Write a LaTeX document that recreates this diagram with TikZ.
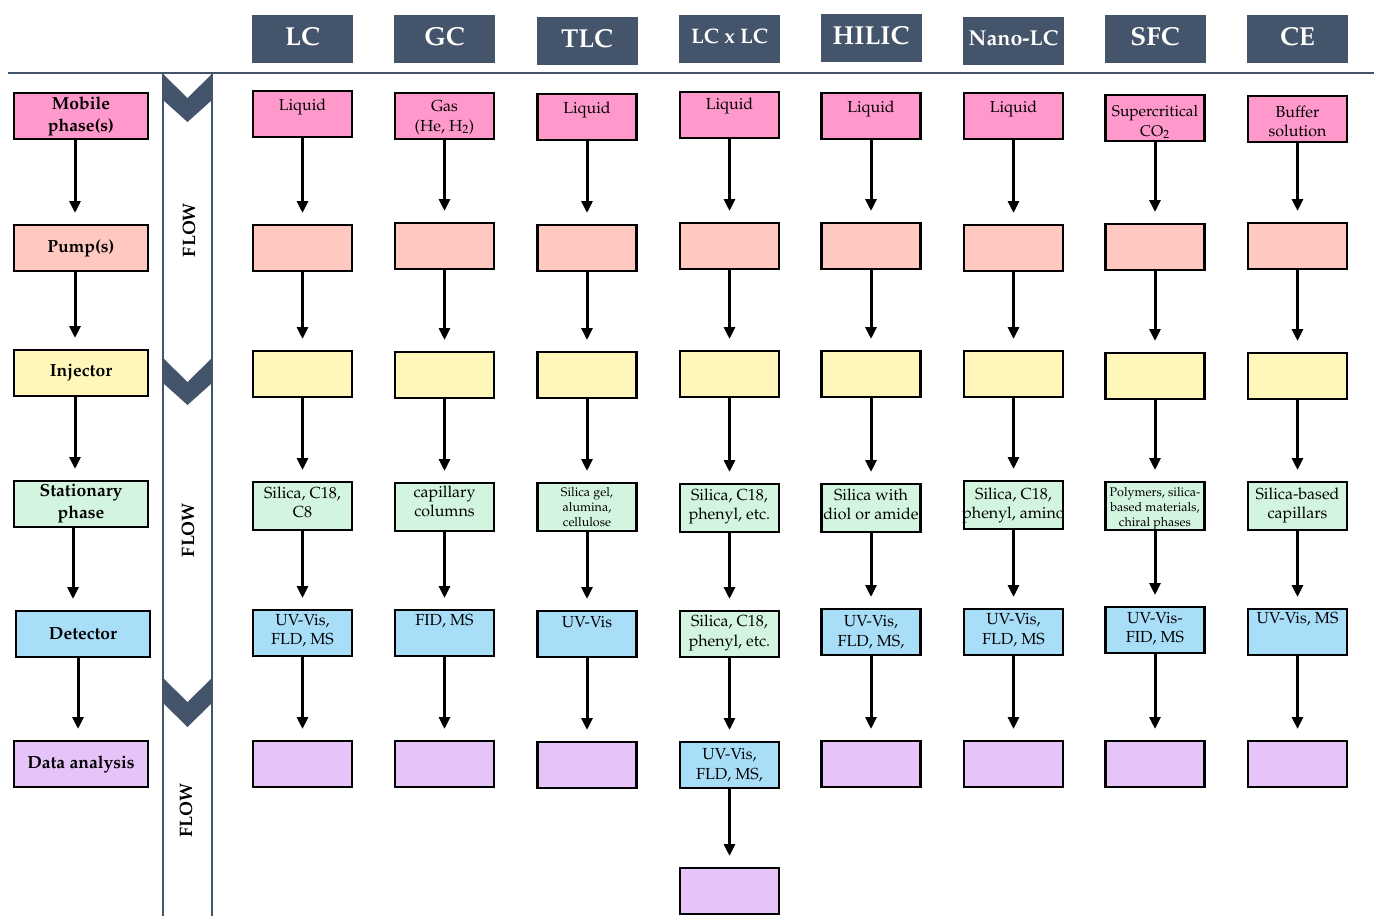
\documentclass[tikz,border=0pt]{standalone}
\usepackage[T1]{fontenc}
\usepackage{mathpazo}
\usetikzlibrary{arrows.meta}
\definecolor{slate}{HTML}{44546A}
\definecolor{cpink}{HTML}{FF99CC}
\definecolor{cpump}{HTML}{FFC9C1}
\definecolor{cinj}{HTML}{FFF6B9}
\definecolor{cstat}{HTML}{D3F5E0}
\definecolor{cdet}{HTML}{A9DEF8}
\definecolor{cdata}{HTML}{E6C3F9}
\tikzset{
  every node/.style={inner sep=0pt, outer sep=0pt},
  cbox/.style={draw=black, line width=2.2pt, minimum width=99pt, minimum height=46pt, anchor=north},
  lbox/.style={cbox, minimum width=134pt, align=center, font=\fontsize{17.5}{22}\selectfont\bfseries},
  hbox/.style={fill=slate, minimum width=101pt, minimum height=48pt, anchor=north, text=white, text depth=6pt, font=\fontsize{26}{30}\selectfont\bfseries},
  ctext/.style={anchor=north, align=center, font=\fontsize{16}{19.5}\selectfont},
  stext/.style={ctext, font=\fontsize{12.5}{15}\selectfont},
  pinkb/.style={fill=cpink},
  pumpb/.style={fill=cpump},
  injb/.style={fill=cinj},
  statb/.style={fill=cstat, minimum height=48pt},
  detb/.style={fill=cdet},
  datab/.style={fill=cdata},
  arr/.style={line width=3pt, -{Triangle[length=12pt,width=11pt]}, shorten >=12pt},
  flowtxt/.style={rotate=90, font=\fontsize{18}{21}\selectfont\bfseries},
  band/.style={draw=slate, line width=2pt},
}
\newcommand\mkbox[7]{%
  \node[cbox,#4] (#1) at (#2,#3) {};
  \node[#5] (#1t) at ([yshift=-#6pt]#1.north) {#7};
}
\newcommand\ebox[4]{%
  \node[cbox,#4] (#1) at (#2,#3) {};
}
\begin{document}
\begin{tikzpicture}[x=1pt,y=-1pt]
\useasboundingbox (0,0) rectangle (1374,916);
% header line and flow band
\draw[band] (8,73) -- (1374,73);
\draw[band] (163,73) -- (163,916);
\draw[band] (212,73) -- (212,916);
\fill[slate] (163,74) -- (187.5,98) -- (212,74) -- (212,100) -- (187.5,122) -- (163,100) -- cycle;
\fill[slate] (163,358) -- (187.5,382) -- (212,358) -- (212,383) -- (187.5,405) -- (163,383) -- cycle;
\fill[slate] (163,678) -- (187.5,702) -- (212,678) -- (212,703) -- (187.5,727) -- (163,703) -- cycle;
\node[flowtxt] (f1) at (189,230) {FLOW};
\node[flowtxt] (f2) at (188,530) {FLOW};
\node[flowtxt] (f3) at (186,810) {FLOW};
% headers
\node[hbox] (hLC) at (302.5,15) {LC};
\node[hbox] (hGC) at (444.5,15) {GC};
\node[hbox] (hTLC) at (587,17) {TLC};
\node[hbox, font=\fontsize{21}{25}\selectfont\bfseries] (hLL) at (729.5,15) {LC x LC};
\node[hbox] (hHI) at (871,14) {HILIC};
\node[hbox, font=\fontsize{21.5}{25}\selectfont\bfseries] (hNL) at (1013.5,17) {Nano-LC};
\node[hbox] (hSFC) at (1155,15) {SFC};
\node[hbox] (hCE) at (1297.5,15) {CE};
% left column
\node[lbox, fill=cpink] (Lmob) at (81,93) {Mobile\\phase(s)};
\node[lbox, fill=cpump] (Lpump) at (81,225) {Pump(s)};
\node[lbox, fill=cinj] (Linj) at (81,350) {Injector};
\node[lbox, fill=cstat] (Lstat) at (81,481) {Stationary\\phase};
\node[lbox, fill=cdet] (Ldet) at (83,611) {Detector};
\node[lbox, fill=cdata] (Ldata) at (81,741) {Data analysis};
\draw[arr] ([xshift=-6pt]Lmob.south) -- ([xshift=-6pt]Lpump.north);
\draw[arr] ([xshift=-6pt]Lpump.south) -- ([xshift=-6pt]Linj.north);
\draw[arr] ([xshift=-6pt]Linj.south) -- ([xshift=-6pt]Lstat.north);
\draw[arr] ([xshift=-8pt]Lstat.south) -- ([xshift=-10pt]Ldet.north);
\draw[arr] ([xshift=-5pt]Ldet.south) -- ([xshift=-3pt]Ldata.north);
% LC
\mkbox{LC1}{302.5}{91}{pinkb}{ctext}{7.5}{Liquid}
\ebox{LC2}{302.5}{225}{pumpb}
\ebox{LC3}{302.5}{351}{injb}
\mkbox{LC4}{302.5}{482}{statb}{ctext}{4.5}{Silica, C18,\\C8}
\mkbox{LC5}{302.5}{610}{detb}{ctext}{4}{UV-Vis,\\FLD, MS}
\ebox{LC6}{302.5}{741}{datab}
% GC
\mkbox{GC1}{444.5}{93}{pinkb}{ctext}{7.5}{Gas\\(He, H$_2$)}
\ebox{GC2}{444.5}{223}{pumpb}
\ebox{GC3}{444.5}{352}{injb}
\mkbox{GC4}{444.5}{483}{statb}{ctext}{2.5}{capillary\\columns}
\mkbox{GC5}{444.5}{610}{detb}{ctext}{4}{FID, MS}
\ebox{GC6}{444.5}{741}{datab}
% TLC
\mkbox{TLC1}{587}{94}{pinkb}{ctext}{8}{Liquid}
\ebox{TLC2}{587}{225}{pumpb}
\ebox{TLC3}{587}{352}{injb}
\mkbox{TLC4}{587}{483}{statb}{stext}{4}{Silica gel,\\alumina,\\cellulose}
\mkbox{TLC5}{587}{611}{detb}{ctext}{5}{UV-Vis}
\ebox{TLC6}{587}{742}{datab}
% LC x LC
\mkbox{LL1}{729.5}{92}{pinkb}{ctext}{6}{Liquid}
\ebox{LL2}{729.5}{223}{pumpb}
\ebox{LL3}{729.5}{351}{injb}
\mkbox{LL4}{729.5}{484}{statb}{ctext}{4.5}{Silica, C18,\\phenyl, etc.}
\mkbox{LL5}{729.5}{611}{fill=cstat}{ctext}{4}{Silica, C18,\\phenyl, etc.}
\mkbox{LL6}{729.5}{742}{detb}{ctext}{6.5}{UV-Vis,\\FLD, MS,}
\ebox{LL7}{729.5}{868}{datab}
% HILIC
\mkbox{HI1}{871}{93}{pinkb}{ctext}{7.5}{Liquid}
\ebox{HI2}{871}{223}{pumpb}
\ebox{HI3}{871}{351}{injb}
\mkbox{HI4}{871}{484}{statb}{ctext}{4.5}{Silica with\\diol or amide}
\mkbox{HI5}{871}{609}{detb}{ctext}{6.5}{UV-Vis,\\FLD, MS,}
\ebox{HI6}{871}{741}{datab}
% Nano-LC
\mkbox{NL1}{1013.5}{93}{pinkb}{ctext}{7.5}{Liquid}
\ebox{NL2}{1013.5}{225}{pumpb}
\ebox{NL3}{1013.5}{351}{injb}
\mkbox{NL4}{1013.5}{481}{statb}{ctext}{6.5}{Silica, C18,\\phenyl, amino}
\mkbox{NL5}{1013.5}{609}{detb}{ctext}{4.5}{UV-Vis,\\FLD, MS}
\ebox{NL6}{1013.5}{741}{datab}
% SFC
\mkbox{SFC1}{1155}{95}{pinkb}{ctext,font=\fontsize{15.5}{19.5}\selectfont}{10.5}{Supercritical\\CO$_2$}
\ebox{SFC2}{1155}{224}{pumpb}
\ebox{SFC3}{1155}{353}{injb}
\mkbox{SFC4}{1155}{482}{statb}{stext}{5}{Polymers, silica-\\based materials,\\chiral phases}
\mkbox{SFC5}{1155}{607}{detb}{ctext}{5}{UV-Vis-\\FID, MS}
\ebox{SFC6}{1155}{741}{datab}
% CE
\mkbox{CE1}{1297.5}{96}{pinkb}{ctext}{9.5}{Buffer\\solution}
\ebox{CE2}{1297.5}{223}{pumpb}
\ebox{CE3}{1297.5}{353}{injb}
\mkbox{CE4}{1297.5}{482}{statb}{ctext}{5.5}{Silica-based\\capillars}
\mkbox{CE5}{1297.5}{609}{detb}{ctext}{3}{UV-Vis, MS}
\ebox{CE6}{1297.5}{741}{datab}
% arrows
\foreach \c in {LC,GC,TLC,HI,NL,SFC,CE}{
  \foreach \i/\j in {1/2,2/3,3/4,4/5,5/6}{
    \draw[arr] (\c\i.south) -- (\c\j.north);
  }
}
\foreach \i/\j in {1/2,2/3,3/4,4/5,5/6,6/7}{
  \draw[arr] (LL\i.south) -- (LL\j.north);
}
\end{tikzpicture}
\end{document}
